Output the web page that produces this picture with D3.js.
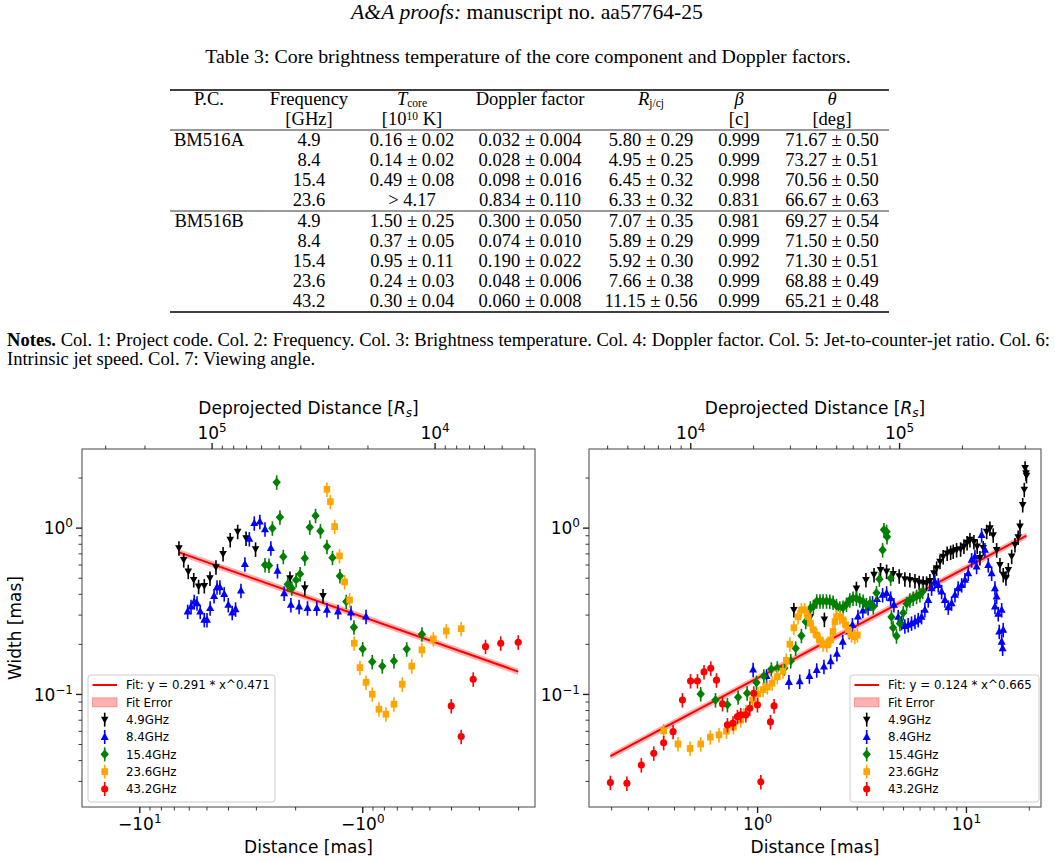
<!DOCTYPE html>
<html>
<head>
<meta charset="utf-8">
<script src="https://cdn.jsdelivr.net/npm/d3@7"></script>
<style>
  body { margin: 0; background: #fff; }
  svg { display: block; }
</style>
</head>
<body>
<script>
// ---------- Table 3 ----------
const pcCol = ['BM516A', '', '', '', 'BM516B', '', '', '', ''];
const freqCol = ['4.9', '8.4', '15.4', '23.6', '4.9', '8.4', '15.4', '23.6', '43.2'];
const tcoreCol = ['0.16 ± 0.02', '0.14 ± 0.02', '0.49 ± 0.08', '> 4.17', '1.50 ± 0.25', '0.37 ± 0.05', '0.95 ± 0.11', '0.24 ± 0.03', '0.30 ± 0.04'];
const dopplerCol = ['0.032 ± 0.004', '0.028 ± 0.004', '0.098 ± 0.016', '0.834 ± 0.110', '0.300 ± 0.050', '0.074 ± 0.010', '0.190 ± 0.022', '0.048 ± 0.006', '0.060 ± 0.008'];
const ratioCol = ['5.80 ± 0.29', '4.95 ± 0.25', '6.45 ± 0.32', '6.33 ± 0.32', '7.07 ± 0.35', '5.89 ± 0.29', '5.92 ± 0.30', '7.66 ± 0.38', '11.15 ± 0.56'];
const betaCol = ['0.999', '0.999', '0.998', '0.831', '0.981', '0.999', '0.992', '0.999', '0.999'];
const thetaCol = ['71.67 ± 0.50', '73.27 ± 0.51', '70.56 ± 0.50', '66.67 ± 0.63', '69.27 ± 0.54', '71.50 ± 0.50', '71.30 ± 0.51', '68.88 ± 0.49', '65.21 ± 0.48'];

// ---------- width profiles: [distance (mas), width (mas)] ----------
// counter-jet side (left panel)
const cj49 = [[-6.64,0.752],[-6.32,0.639],[-6.03,0.544],[-5.70,0.485],[-5.42,0.442],[-5.11,0.446],[-4.82,0.496],[-4.53,0.578],[-4.21,0.695],[-3.91,0.844],[-3.62,0.946],[-3.32,0.863],[-3.01,0.741],[-2.11,0.496],[-1.81,0.432],[-1.50,0.388]];
const cj84 = [[-6.07,0.313],[-5.86,0.335],[-5.67,0.359],[-5.51,0.351],[-5.33,0.313],[-5.11,0.279],[-4.97,0.279],[-4.81,0.328],[-4.62,0.388],[-4.48,0.438],[-4.35,0.438],[-4.16,0.399],[-3.99,0.343],[-3.83,0.308],[-3.70,0.323],[-3.50,0.418],[-3.36,0.603],[-3.21,0.855],[-3.05,1.063],[-2.88,1.087],[-2.73,0.978],[-2.57,0.752],[-2.40,0.549],[-2.24,0.403],[-2.09,0.343],[-1.92,0.335],[-1.76,0.328],[-1.60,0.328],[-1.44,0.320],[-1.285,0.313],[-1.124,0.308],[-0.962,0.292]];
const cj154 = [[-2.73,0.597],[-2.62,0.592],[-2.53,0.992],[-2.42,1.875],[-2.34,1.155],[-2.26,0.669],[-2.16,0.457],[-2.07,0.432],[-1.98,0.485],[-1.90,0.527],[-1.81,0.655],[-1.72,1.006],[-1.62,1.18],[-1.54,0.955],[-1.44,0.769],[-1.36,0.660],[-1.26,0.512],[-1.18,0.359],[-1.09,0.252],[-0.996,0.1865],[-0.902,0.156],[-0.813,0.147],[-0.721,0.158],[-0.632,0.186],[-0.540,0.2286]];
const cj236 = [[-1.44,1.70],[-1.39,1.433],[-1.33,1.014],[-1.265,0.676],[-1.20,0.4715],[-1.14,0.367],[-1.086,0.2018],[-1.024,0.144],[-0.962,0.1175],[-0.902,0.0996],[-0.842,0.0809],[-0.783,0.0755],[-0.721,0.0867],[-0.662,0.1144],[-0.600,0.147],[-0.540,0.184],[-0.480,0.214],[-0.420,0.239],[-0.360,0.247]];
const cj432 = [[-0.399,0.0847],[-0.360,0.0554],[-0.318,0.1226],[-0.280,0.1925],[-0.2394,0.2018],[-0.1998,0.2046]];

// jet side (right panel)
const j49 = [[1.50,0.32],[1.80,0.29],[2.10,0.28],[2.99,0.43],[3.32,0.485],[3.63,0.52],[3.90,0.557],[4.17,0.545],[4.48,0.527],[4.79,0.51],[5.10,0.49],[5.39,0.485],[5.70,0.478],[5.97,0.467],[6.24,0.463],[6.48,0.463],[6.72,0.478],[7.03,0.531],[7.24,0.57],[7.51,0.624],[7.78,0.668],[8.13,0.70],[8.45,0.71],[8.69,0.72],[9.02,0.734],[9.43,0.742],[9.78,0.77],[10.13,0.81],[10.45,0.844],[10.92,0.82],[11.32,0.77],[11.67,0.657],[12.10,0.755],[12.57,0.946],[13.03,0.99],[13.51,0.90],[14.03,0.734],[14.55,0.596],[15.09,0.52],[15.55,0.497],[15.96,0.557],[16.56,0.67],[17.17,0.787],[17.79,0.875],[18.15,1.014],[18.70,1.37],[19.03,1.69],[19.2,2.28],[19.39,2.12],[19.5,2.05]];
const j84 = [[0.957,0.14],[1.11,0.128],[1.42,0.118],[1.60,0.119],[1.78,0.128],[1.93,0.139],[2.09,0.146],[2.25,0.157],[2.41,0.174],[2.57,0.206],[2.76,0.237],[2.86,0.26],[3.04,0.292],[3.21,0.317],[3.40,0.329],[3.57,0.352],[3.75,0.372],[3.99,0.394],[4.17,0.404],[4.36,0.376],[4.52,0.343],[4.74,0.291],[4.92,0.268],[5.10,0.256],[5.29,0.26],[5.49,0.266],[5.70,0.272],[5.91,0.279],[6.13,0.291],[6.36,0.32],[6.60,0.367],[6.85,0.432],[7.10,0.473],[7.37,0.452],[7.65,0.412],[7.93,0.367],[8.23,0.332],[8.54,0.351],[8.86,0.394],[9.18,0.432],[9.54,0.452],[9.89,0.485],[10.26,0.531],[10.65,0.639],[11.04,0.669],[11.25,0.583],[11.89,0.903],[12.33,0.734],[12.79,0.596],[13.28,0.531],[13.77,0.432],[13.77,0.335],[14.03,0.385],[14.28,0.303],[14.44,0.237],[14.83,0.32],[15.09,0.243],[14.83,0.206],[14.99,0.188]];
const j154 = [[0.537,0.100],[0.632,0.092],[0.721,0.086],[0.811,0.0955],[0.896,0.101],[0.993,0.117],[1.077,0.128],[1.17,0.141],[1.25,0.143],[1.35,0.143],[1.45,0.158],[1.53,0.188],[1.63,0.224],[1.71,0.272],[1.80,0.328],[1.86,0.335],[1.93,0.361],[2.00,0.361],[2.07,0.361],[2.15,0.361],[2.23,0.360],[2.31,0.355],[2.40,0.339],[2.49,0.328],[2.58,0.331],[2.68,0.346],[2.78,0.367],[2.88,0.376],[2.99,0.376],[3.10,0.367],[3.22,0.360],[3.34,0.343],[3.47,0.351],[3.60,0.334],[3.73,0.405],[3.85,0.49],[3.99,0.734],[4.05,0.97],[4.17,0.946],[4.19,0.88],[4.36,0.496],[4.40,0.29],[4.48,0.25],[4.65,0.223],[4.83,0.265],[5.01,0.307],[5.20,0.348],[5.39,0.367],[5.59,0.376],[5.80,0.385],[6.02,0.394],[6.20,0.412]];
const j236 = [[0.357,0.060],[0.418,0.050],[0.478,0.047],[0.537,0.050],[0.597,0.055],[0.657,0.0567],[0.713,0.0597],[0.771,0.0633],[0.835,0.0697],[0.886,0.078],[0.951,0.092],[1.01,0.10],[1.068,0.106],[1.12,0.110],[1.18,0.116],[1.25,0.127],[1.33,0.137],[1.38,0.159],[1.435,0.199],[1.50,0.25],[1.57,0.291],[1.63,0.32],[1.69,0.32],[1.76,0.291],[1.80,0.266],[1.86,0.243],[1.93,0.226],[2.00,0.211],[2.07,0.199],[2.16,0.197],[2.25,0.211],[2.31,0.237],[2.36,0.272],[2.40,0.291],[2.49,0.291],[2.58,0.279],[2.66,0.26],[2.73,0.243],[2.83,0.226],[2.94,0.221],[3.02,0.226]];
const j432 = [[0.1984,0.0293],[0.238,0.0290],[0.279,0.0374],[0.320,0.0440],[0.357,0.0509],[0.396,0.0593],[0.439,0.092],[0.480,0.1197],[0.518,0.1197],[0.557,0.1356],[0.600,0.1427],[0.639,0.121],[0.683,0.0871],[0.721,0.0651],[0.767,0.0667],[0.805,0.0730],[0.835,0.0748],[0.883,0.0748],[0.923,0.082],[0.964,0.101],[1.004,0.0859],[1.042,0.0296],[1.159,0.0679],[1.206,0.0847]];

const bandLabels = ['4.9GHz', '8.4GHz', '15.4GHz', '23.6GHz', '43.2GHz'];
const bandColors = ['#000000', '#0000ff', '#008000', '#ffa500', '#ff0000'];
const bandMarkers = ['v', '^', 'D', 's', 'o'];
const relErr = 0.1;      // vertical error bars, fraction of width

// power-law fits, y = a * |x|^b
const fitLeft = { a: 0.291, b: 0.471, label: 'Fit: y = 0.291 * x^0.471' };
const fitRight = { a: 0.124, b: 0.665, label: 'Fit: y = 0.124 * x^0.665' };
const fitErr = 0.045;

const W = 1055, H = 862;
const serif = "'Liberation Serif', 'Times New Roman', serif";
const sans = "'DejaVu Sans', sans-serif";

const svg = d3.select('body').append('svg')
	.attr('width', W)
	.attr('height', H)
	.style('background', '#fff');

// scale a text so it spans the given width
function fitWidth(t, w) {
	const cur = t.node().getComputedTextLength();
	t.attr('font-size', +t.attr('font-size') * w / cur);
}

// ---------- page header / caption ----------
const cap = svg.append('text')
	.attr('x', 528).attr('y', 63)
	.attr('text-anchor', 'middle')
	.attr('font-family', serif).attr('font-size', 18)
	.text('Table 3: Core brightness temperature of the core component and Doppler factors.');
fitWidth(cap, 646);

const head = svg.append('text')
	.attr('x', 527).attr('y', 19)
	.attr('text-anchor', 'middle')
	.attr('font-family', serif).attr('font-size', 16);
head.append('tspan').attr('font-style', 'italic').text('A&A proofs:');
head.append('tspan').text(' manuscript no. aa57764-25');
fitWidth(head, 352);

// table font from one reference cell
const probe = svg.append('text').attr('font-family', serif).attr('font-size', 20).text(dopplerCol[0]);
const tableFs = 20 * 103 / probe.node().getComputedTextLength();
probe.remove();

const colX = [209, 309, 412, 530, 651, 739, 832];
const tbl = svg.append('g')
	.attr('font-family', serif)
	.attr('font-size', tableFs)
	.attr('text-anchor', 'middle');

[[90, 1.3], [130, 0.8], [211, 0.8], [312, 1.3]].forEach(([yy, sw]) => {
	tbl.append('line')
		.attr('x1', 170).attr('x2', 889)
		.attr('y1', yy).attr('y2', yy)
		.attr('stroke', '#000').attr('stroke-width', sw);
});

// header rows
const h1 = 104.5, h2 = 125;
tbl.append('text').attr('x', colX[0]).attr('y', h1).text('P.C.');
tbl.append('text').attr('x', colX[1]).attr('y', h1).text('Frequency');
const tc = tbl.append('text').attr('x', colX[2]).attr('y', h1);
tc.append('tspan').attr('font-style', 'italic').text('T');
tc.append('tspan').attr('font-size', '0.62em').attr('dy', 2).text('core');
tbl.append('text').attr('x', colX[3]).attr('y', h1).text('Doppler factor');
const rj = tbl.append('text').attr('x', colX[4]).attr('y', h1);
rj.append('tspan').attr('font-style', 'italic').text('R');
rj.append('tspan').attr('font-size', '0.62em').attr('dy', 2.5).text('j/cj');
tbl.append('text').attr('x', colX[5]).attr('y', h1).attr('font-style', 'italic').text('β');
tbl.append('text').attr('x', colX[6]).attr('y', h1).attr('font-style', 'italic').text('θ');
tbl.append('text').attr('x', colX[1]).attr('y', h2).text('[GHz]');
const tu = tbl.append('text').attr('x', colX[2]).attr('y', h2);
tu.append('tspan').text('[10');
tu.append('tspan').attr('font-size', '0.62em').attr('dy', -5).text('10');
tu.append('tspan').attr('dy', 5).text(' K]');
tbl.append('text').attr('x', colX[5]).attr('y', h2).text('[c]');
tbl.append('text').attr('x', colX[6]).attr('y', h2).text('[deg]');

const rowY = [145.5, 165.5, 185.5, 205.5, 226.5, 246.5, 266.5, 286.5, 306.5];
const cols = [pcCol, freqCol, tcoreCol, dopplerCol, ratioCol, betaCol, thetaCol];
cols.forEach((col, ci) => {
	tbl.selectAll(null)
		.data(col)
		.enter()
		.append('text')
		.attr('x', colX[ci])
		.attr('y', (d, i) => rowY[i])
		.text(d => d);
});

// notes
const notes1 = svg.append('text')
	.attr('x', 7).attr('y', 346)
	.attr('font-family', serif).attr('font-size', tableFs)
	.attr('textLength', 1043).attr('lengthAdjust', 'spacing');
notes1.append('tspan').attr('font-weight', 'bold').text('Notes.');
notes1.append('tspan').text(' Col. 1: Project code. Col. 2: Frequency. Col. 3: Brightness temperature. Col. 4: Doppler factor. Col. 5: Jet-to-counter-jet ratio. Col. 6:');
svg.append('text')
	.attr('x', 7).attr('y', 365)
	.attr('font-family', serif).attr('font-size', tableFs)
	.text('Intrinsic jet speed. Col. 7: Viewing angle.');

// ---------- plots ----------
const yDomain = [0.0209, 2.97];
const tickFs = 17, supFs = 12;

function markerPath(type) {
	if (type === 'v') return 'M-3.8,-3L3.8,-3L0,3.8Z';
	if (type === '^') return 'M0,-4.4L4,2.9L-4,2.9Z';
	if (type === 'D') return 'M0,-4.7L4.2,0L0,4.7L-4.2,0Z';
	if (type === 's') return 'M-3.3,-3.4H3.3V3.4H-3.3Z';
	return d3.symbol(d3.symbolCircle, 40)();
}

function isMajor(v) {
	const l = Math.log10(Math.abs(v));
	return Math.abs(l - Math.round(l)) < 1e-6;
}

// log axis with minor ticks and 10^n labels
function logAxis(g, scale, axisFn, transform, label) {
	const ticks = scale.ticks();
	const minor = ticks.filter(v => !isMajor(v));
	const major = ticks.filter(isMajor);
	const gMin = g.append('g').attr('transform', transform)
		.call(axisFn(scale).tickValues(minor).tickSize(3.5).tickFormat(''));
	const gMaj = g.append('g').attr('transform', transform)
		.call(axisFn(scale).tickValues(major).tickSize(6).tickPadding(label ? 4.5 : 3).tickFormat(''));
	[gMin, gMaj].forEach(a => {
		a.select('.domain').remove();
		a.selectAll('line').attr('stroke', '#222');
	});
	gMin.selectAll('line').attr('stroke-width', 0.9);
	gMaj.selectAll('line').attr('stroke-width', 1.4);
	gMaj.selectAll('.tick text').each(function(d) {
		const t = d3.select(this)
			.text(null)
			.attr('fill', '#000')
			.attr('font-family', sans)
			.attr('font-size', tickFs);
		const e = Math.round(Math.log10(Math.abs(d)));
		t.append('tspan').text((d < 0 ? '\u2212' : '') + '10');
		t.append('tspan').attr('font-size', supFs).attr('dy', -7).text(e < 0 ? '\u2212' + (-e) : e);
	});
	return gMaj;
}

function drawPanel(p) {
	const g = svg.append('g');
	const x = d3.scaleLog().domain(p.xDomain).range([p.left, p.right]);
	const y = d3.scaleLog().domain(yDomain).range([p.bottom, p.top]);
	const xTop = d3.scaleLog()
		.domain(p.xDomain.map(v => Math.abs(v) * p.rsPerMas))
		.range([p.left, p.right]);

	const clipId = 'clip' + p.left;
	g.append('clipPath').attr('id', clipId)
		.append('rect')
		.attr('x', p.left).attr('y', p.top)
		.attr('width', p.right - p.left).attr('height', p.bottom - p.top);

	// fit line and its error band
	const allX = p.series.flat().map(d => d[0]);
	const ext = d3.extent(allX);
	const fy = v => p.fit.a * Math.pow(Math.abs(v), p.fit.b);
	const band = [
		[ext[0], fy(ext[0]) * (1 + fitErr)], [ext[1], fy(ext[1]) * (1 + fitErr)],
		[ext[1], fy(ext[1]) * (1 - fitErr)], [ext[0], fy(ext[0]) * (1 - fitErr)]
	];
	const plot = g.append('g').attr('clip-path', `url(#${clipId})`);
	plot.append('path')
		.attr('d', 'M' + band.map(d => [x(d[0]), y(d[1])].join(',')).join('L') + 'Z')
		.attr('fill', '#ff0000').attr('fill-opacity', 0.3);
	plot.append('line')
		.attr('x1', x(ext[0])).attr('y1', y(fy(ext[0])))
		.attr('x2', x(ext[1])).attr('y2', y(fy(ext[1])))
		.attr('stroke', '#ff0000').attr('stroke-width', 2);

	// data with error bars
	p.series.forEach((vals, si) => {
		const pts = plot.append('g')
			.selectAll('g')
			.data(vals)
			.enter()
			.append('g')
			.attr('transform', d => `translate(${x(d[0])},${y(d[1])})`);
		pts.append('line')
			.attr('y1', d => y(d[1] * (1 + relErr)) - y(d[1]))
			.attr('y2', d => y(d[1] * (1 - relErr)) - y(d[1]))
			.attr('stroke', bandColors[si]).attr('stroke-width', 1.6);
		pts.append('path')
			.attr('d', markerPath(bandMarkers[si]))
			.attr('fill', bandColors[si]);
	});

	// frame
	g.append('rect')
		.attr('x', p.left).attr('y', p.top)
		.attr('width', p.right - p.left).attr('height', p.bottom - p.top)
		.attr('fill', 'none').attr('stroke', '#555').attr('stroke-width', 1.1);

	// axes
	logAxis(g, x, d3.axisBottom, `translate(0,${p.bottom})`, true);
	logAxis(g, xTop, d3.axisTop, `translate(0,${p.top})`, true);
	logAxis(g, y, d3.axisLeft, `translate(${p.left},0)`, false)
		.selectAll('.tick text').attr('dy', '0.36em');

	const cx = (p.left + p.right) / 2;
	g.append('text')
		.attr('x', cx).attr('y', 853)
		.attr('text-anchor', 'middle')
		.attr('font-family', sans).attr('font-size', tickFs)
		.text('Distance [mas]');
	const tl = g.append('text')
		.attr('x', cx).attr('y', 414)
		.attr('text-anchor', 'middle')
		.attr('font-family', sans).attr('font-size', tickFs);
	tl.append('tspan').text('Deprojected Distance [');
	tl.append('tspan').attr('font-style', 'italic').text('R');
	tl.append('tspan').attr('font-style', 'italic').attr('font-size', supFs).attr('dy', 3).text('s');
	tl.append('tspan').attr('dy', -3).text(']');

	// legend
	const lg = g.append('g').attr('transform', `translate(${p.legend[0]},${p.legend[1]})`);
	lg.append('rect')
		.attr('width', p.legend[2]).attr('height', 127)
		.attr('rx', 3)
		.attr('fill', '#fff').attr('fill-opacity', 0.8)
		.attr('stroke', '#cccccc').attr('stroke-width', 1);
	const rowH = 17.33, r0 = 10;
	lg.append('line')
		.attr('x1', 4.5).attr('x2', 29).attr('y1', r0).attr('y2', r0)
		.attr('stroke', '#ff0000').attr('stroke-width', 2);
	lg.append('rect')
		.attr('x', 4.5).attr('y', r0 + rowH - 4.5).attr('width', 24.5).attr('height', 9)
		.attr('fill', '#ff0000').attr('fill-opacity', 0.3)
		.attr('stroke', '#ff0000').attr('stroke-opacity', 0.3);
	const labels = [p.fit.label, 'Fit Error'].concat(bandLabels);
	lg.selectAll('text.lab')
		.data(labels)
		.enter()
		.append('text')
		.attr('class', 'lab')
		.attr('x', 38)
		.attr('y', (d, i) => r0 + i * rowH + 4.3)
		.attr('font-family', sans).attr('font-size', 11.8)
		.text(d => d);
	const lm = lg.selectAll('g.mk')
		.data(bandLabels)
		.enter()
		.append('g')
		.attr('transform', (d, i) => `translate(16.7,${r0 + (i + 2) * rowH})`);
	lm.append('line')
		.attr('y1', -7).attr('y2', 7)
		.attr('stroke', (d, i) => bandColors[i]).attr('stroke-width', 1.6);
	lm.append('path')
		.attr('d', (d, i) => markerPath(bandMarkers[i]))
		.attr('fill', (d, i) => bandColors[i]);
}

drawPanel({
	left: 82, right: 535, top: 449, bottom: 807,
	xDomain: [-18.07, -0.168], rsPerMas: 21100,
	series: [cj49, cj84, cj154, cj236, cj432],
	fit: fitLeft,
	legend: [88, 675, 187]
});
drawPanel({
	left: 589, right: 1041, top: 449, bottom: 807,
	xDomain: [0.1567, 22.88], rsPerMas: 20900,
	series: [j49, j84, j154, j236, j432],
	fit: fitRight,
	legend: [850, 675, 189]
});

// y label (left panel only)
svg.append('text')
	.attr('transform', 'translate(21,628) rotate(-90)')
	.attr('text-anchor', 'middle')
	.attr('font-family', sans).attr('font-size', tickFs)
	.text('Width [mas]');
</script>
</body>
</html>
